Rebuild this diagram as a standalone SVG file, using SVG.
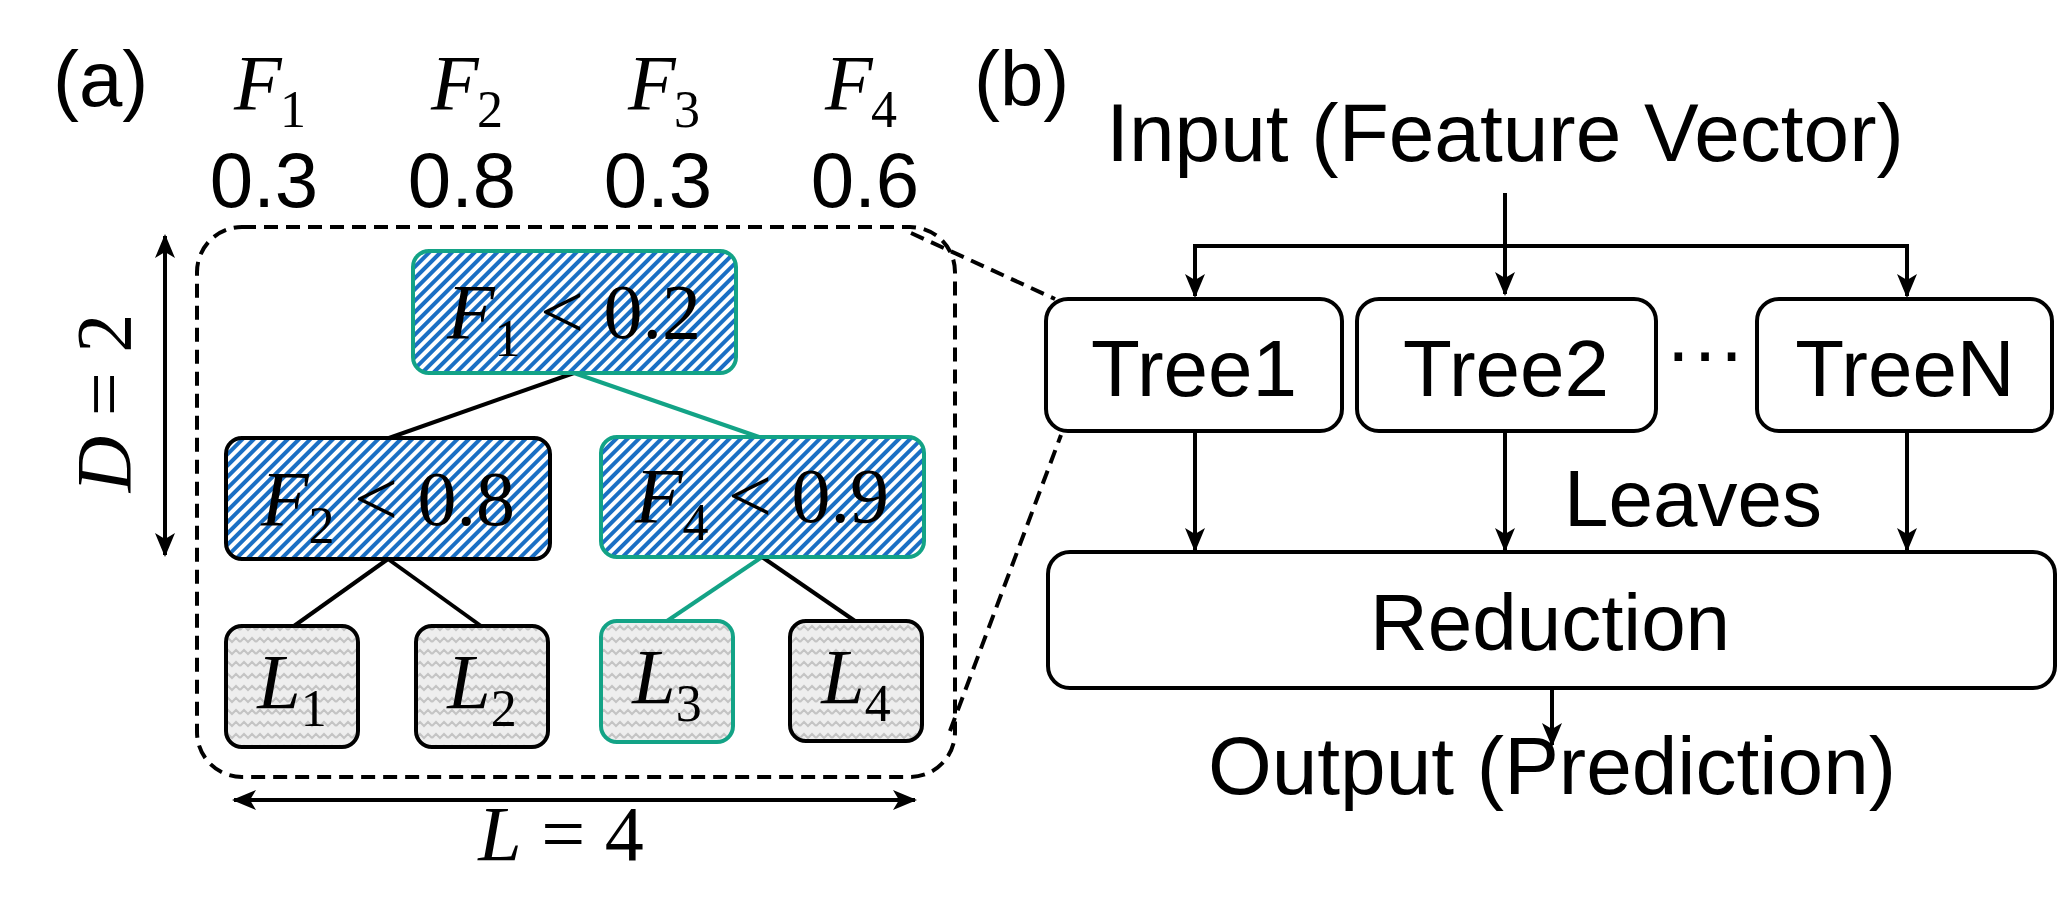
<svg xmlns="http://www.w3.org/2000/svg" width="2071" height="902" viewBox="0 0 2071 902">
<style>
.t{font-family:"Liberation Sans",Arial,sans-serif;fill:#000}
.m{font-family:"Liberation Serif","Times New Roman",serif;fill:#000}
.i{font-style:italic}
.bk{fill:none;stroke:#000;stroke-width:4}
.gr{fill:none;stroke:#13a386;stroke-width:4}
.hat{fill:url(#hatch)}
.lf{fill:url(#wave)}
.dash{fill:none;stroke:#000;stroke-width:4;stroke-dasharray:14 8}
</style>
<defs>
<pattern id="hatch" width="8" height="8" patternUnits="userSpaceOnUse" patternTransform="rotate(45)">
<rect width="8" height="8" fill="#fff"/><rect width="4" height="8" fill="#1a6fc4"/>
</pattern>
<pattern id="wave" width="16" height="12" patternUnits="userSpaceOnUse">
<rect width="16" height="12" fill="#eeeeee"/><path d="M0 6 L4 2 L8 6 L12 2 L16 6" fill="none" stroke="#c4c4c4" stroke-width="2"/>
</pattern>
<marker id="ar" viewBox="0 0 12 12" refX="11" refY="6" markerWidth="6" markerHeight="6" orient="auto-start-reverse" markerUnits="strokeWidth">
<path d="M0 1 L12 6 L0 11 L3 6 Z" fill="#000"/>
</marker>
</defs>

<g id="labels">
<text class="t" x="53" y="106" font-size="78">(a)</text>
<text class="t" x="974" y="106" font-size="78">(b)</text>
<g class="m i" font-size="78">
<text x="234" y="109">F</text><text x="431" y="109">F</text><text x="628" y="109">F</text><text x="825" y="109">F</text>
</g>
<g class="m" font-size="52">
<text x="280" y="127">1</text><text x="477" y="127">2</text><text x="674" y="127">3</text><text x="871" y="127">4</text>
</g>
<g class="t" font-size="78" text-anchor="middle">
<text x="264" y="207">0.3</text><text x="462" y="207">0.8</text><text x="658" y="207">0.3</text><text x="865" y="207">0.6</text>
</g>
<text class="m" x="0" y="0" font-size="78" text-anchor="middle" transform="translate(130 403) rotate(-90)"><tspan class="i">D</tspan> = 2</text>
<text class="m" x="561" y="860" font-size="78" text-anchor="middle"><tspan class="i">L</tspan> = 4</text>
</g>

<g id="container">
<rect class="dash" x="197" y="227" width="758" height="550" rx="45"/>
</g>

<g id="connectors">
<line class="bk" x1="165" y1="236" x2="165" y2="555" marker-start="url(#ar)" marker-end="url(#ar)"/>
<line class="bk" x1="234" y1="800" x2="915" y2="800" marker-start="url(#ar)" marker-end="url(#ar)"/>
<line class="dash" x1="911" y1="233" x2="1055" y2="299"/>
<line class="dash" x1="950" y1="731" x2="1061" y2="435"/>
<line class="bk" x1="574" y1="373" x2="389" y2="438"/>
<line class="gr" x1="574" y1="373" x2="759" y2="437"/>
<line class="bk" x1="388" y1="559" x2="294" y2="626"/>
<line class="bk" x1="388" y1="559" x2="481" y2="626"/>
<line class="gr" x1="762" y1="557" x2="667" y2="621"/>
<line class="bk" x1="762" y1="557" x2="855" y2="621"/>
<path class="bk" d="M1505 193 L1505 294" marker-end="url(#ar)"/>
<path class="bk" d="M1195 296 L1195 246 L1907 246 L1907 296" fill="none"/>
<path class="bk" d="M1195 270 L1195 296" marker-end="url(#ar)"/>
<path class="bk" d="M1907 270 L1907 296" marker-end="url(#ar)"/>
<path class="bk" d="M1195 433 L1195 550" marker-end="url(#ar)"/>
<path class="bk" d="M1505 433 L1505 550" marker-end="url(#ar)"/>
<path class="bk" d="M1907 433 L1907 550" marker-end="url(#ar)"/>
<path class="bk" d="M1552 690 L1552 745" marker-end="url(#ar)"/>
</g>

<g id="root">
<rect class="hat" x="413" y="251" width="323" height="122" rx="16"/>
<rect class="gr" x="413" y="251" width="323" height="122" rx="16"/>
<text class="m" x="574" y="338" font-size="78" text-anchor="middle"><tspan class="i">F</tspan><tspan font-size="52" dy="18">1</tspan><tspan dy="-18"> &lt; 0.2</tspan></text>
</g>
<g id="nodeF2">
<rect class="hat" x="226" y="438" width="324" height="121" rx="16"/>
<rect class="bk" x="226" y="438" width="324" height="121" rx="16"/>
<text class="m" x="388" y="525" font-size="78" text-anchor="middle"><tspan class="i">F</tspan><tspan font-size="52" dy="18">2</tspan><tspan dy="-18"> &lt; 0.8</tspan></text>
</g>
<g id="nodeF4">
<rect class="hat" x="601" y="437" width="323" height="120" rx="16"/>
<rect class="gr" x="601" y="437" width="323" height="120" rx="16"/>
<text class="m" x="762" y="522" font-size="78" text-anchor="middle"><tspan class="i">F</tspan><tspan font-size="52" dy="18">4</tspan><tspan dy="-18"> &lt; 0.9</tspan></text>
</g>
<g id="leaf1">
<rect class="lf" x="226" y="626" width="132" height="121" rx="16"/><rect class="bk" x="226" y="626" width="132" height="121" rx="16"/>
<text class="m" x="292" y="708" font-size="78" text-anchor="middle"><tspan class="i">L</tspan><tspan font-size="52" dy="18">1</tspan></text>
</g>
<g id="leaf2">
<rect class="lf" x="416" y="626" width="132" height="121" rx="16"/><rect class="bk" x="416" y="626" width="132" height="121" rx="16"/>
<text class="m" x="482" y="708" font-size="78" text-anchor="middle"><tspan class="i">L</tspan><tspan font-size="52" dy="18">2</tspan></text>
</g>
<g id="leaf3">
<rect class="lf" x="601" y="621" width="132" height="121" rx="16"/><rect class="gr" x="601" y="621" width="132" height="121" rx="16"/>
<text class="m" x="667" y="703" font-size="78" text-anchor="middle"><tspan class="i">L</tspan><tspan font-size="52" dy="18">3</tspan></text>
</g>
<g id="leaf4">
<rect class="lf" x="790" y="621" width="132" height="120" rx="16"/><rect class="bk" x="790" y="621" width="132" height="120" rx="16"/>
<text class="m" x="856" y="703" font-size="78" text-anchor="middle"><tspan class="i">L</tspan><tspan font-size="52" dy="18">4</tspan></text>
</g>

<g id="input"><text class="t" x="1505" y="161" font-size="82" text-anchor="middle">Input (Feature Vector)</text></g>
<g id="tree1"><rect class="bk" x="1046" y="299" width="296" height="132" rx="22" fill="#fff"/><text class="t" x="1194" y="396" font-size="80" text-anchor="middle">Tree1</text></g>
<g id="tree2"><rect class="bk" x="1357" y="299" width="299" height="132" rx="22" fill="#fff"/><text class="t" x="1506" y="396" font-size="80" text-anchor="middle">Tree2</text></g>
<g id="dots"><text class="t" x="1705" y="378" font-size="80" text-anchor="middle">···</text></g>
<g id="treeN"><rect class="bk" x="1757" y="299" width="295" height="132" rx="22" fill="#fff"/><text class="t" x="1905" y="396" font-size="80" text-anchor="middle">TreeN</text></g>
<g id="leaves"><text class="t" x="1693" y="526" font-size="80" text-anchor="middle">Leaves</text></g>
<g id="reduction"><rect class="bk" x="1048" y="552" width="1007" height="136" rx="22" fill="#fff"/><text class="t" x="1550" y="650" font-size="80" text-anchor="middle">Reduction</text></g>
<g id="output"><text class="t" x="1552" y="794" font-size="82" text-anchor="middle">Output (Prediction)</text></g>
</svg>
